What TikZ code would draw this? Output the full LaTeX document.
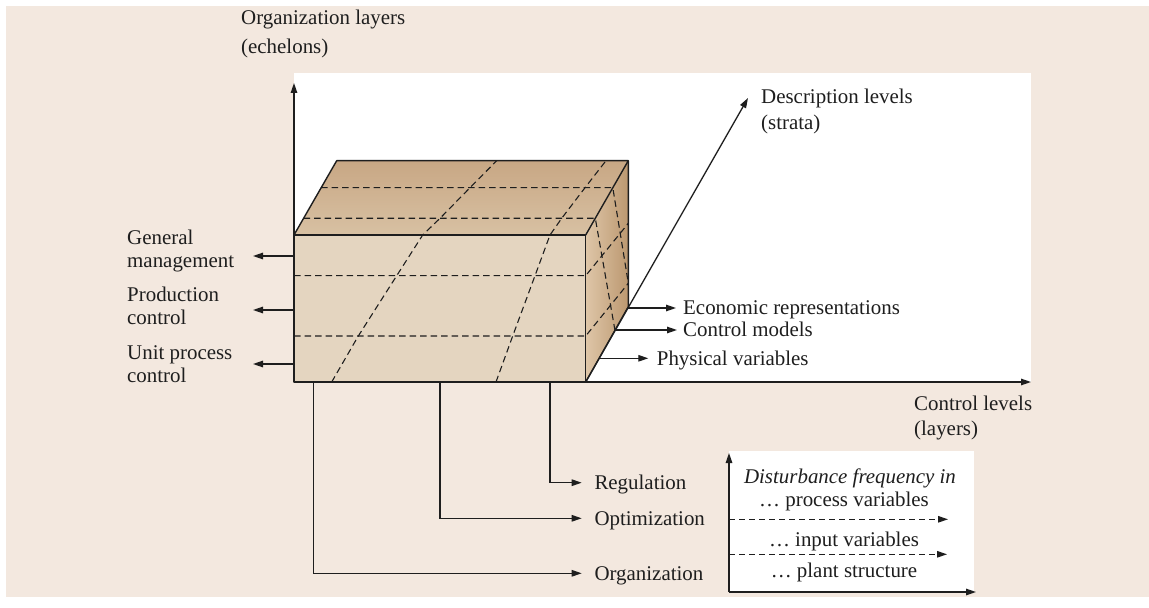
\documentclass[tikz,border=0pt]{standalone}
\usepackage{fontspec}
\setmainfont{Liberation Serif}
\usetikzlibrary{arrows.meta}
\definecolor{bgbeige}{RGB}{243,232,223}
\definecolor{frontface}{RGB}{228,213,192}
\definecolor{topback}{RGB}{200,167,132}
\definecolor{topfront}{RGB}{216,193,163}
\definecolor{sidefront}{RGB}{222,198,168}
\definecolor{sideback}{RGB}{188,152,112}
\definecolor{ink}{RGB}{30,30,30}
\newcommand{\twolines}[3]{\vtop{\baselineskip=#1bp\lineskiplimit=-100pt\hbox{#2}\hbox{#3}}}
\begin{document}
\begin{tikzpicture}[x=1bp,y=-1bp,
  lbl/.style={inner sep=0pt, anchor=base west, text=ink, font=\fontsize{21}{22}\selectfont},
  boxtxt/.style={inner sep=0pt, anchor=base, text=ink, font=\fontsize{21}{22}\selectfont},
  axis/.style={draw=ink, line width=1.3bp, -{Triangle[length=10bp,width=6.5bp]}},
  arr/.style={draw=ink, line width=1.3bp, -{Triangle[length=10bp,width=6.5bp]}},
  dasharr/.style={draw=ink, line width=1.2bp, dash pattern=on 6bp off 4bp, -{Triangle[length=10bp,width=6.5bp]}},
  edge/.style={draw=ink, line width=1.4bp, line join=round},
  grid/.style={draw=ink, line width=1.1bp, dash pattern=on 6.5bp off 4bp}]
\useasboundingbox (0,0) rectangle (1149,608);
% backgrounds
\fill[bgbeige] (6,6) rectangle (1149,597);
\fill[white] (294,73) rectangle (1031,382);
\fill[white] (729,451) rectangle (974,592);

% cube corners
\coordinate (fbl) at (294,382);
\coordinate (fbr) at (585.7,382);
\coordinate (ftl) at (294,235);
\coordinate (ftr) at (585.7,235);
\coordinate (btl) at (336.7,160.7);
\coordinate (btr) at (628.3,160.7);
\coordinate (bbr) at (628.3,306.7);

% faces
\fill[frontface] (fbl) -- (fbr) -- (ftr) -- (ftl) -- cycle;
\shade[top color=topback, bottom color=topfront] (ftl) -- (ftr) -- (btr) -- (btl) -- cycle;
\shade[left color=sidefront, right color=sideback] (fbr) -- (ftr) -- (btr) -- (bbr) -- cycle;

% strata boundaries on the top and side faces
\draw[grid] (321.2,187.7) -- (612.8,187.7) -- (628.3,283);
\draw[grid] (303.6,218.3) -- (595.3,218.3) -- (615,330.5);
% echelon boundaries on the front and side faces
\draw[grid] (294,275.7) -- (585.7,275.7) -- (628.3,223.3);
\draw[grid] (294,336) -- (585.7,336) -- (628.3,283.3);
% layer boundaries across front and top
\draw[grid] (331.7,382) -- (358.3,336) -- (396.7,275.7) -- (422.7,235) -- (440,218.3) -- (470,187.7) -- (496.7,160.7);
\draw[grid] (496,382) -- (512.7,336) -- (535,275.7) -- (550,235) -- (561.7,218.3) -- (585,187.7) -- (606,160.7);

% cube outline
\draw[edge] (fbl) -- (fbr) -- (ftr) -- (ftl) -- cycle;
\draw[edge] (ftl) -- (btl) -- (btr) -- (ftr);
\draw[edge] (btr) -- (bbr) -- (fbr);

% axes
\coordinate (orgtip) at (294,83);
\coordinate (ctrltip) at (1031,382);
\coordinate (desctip) at (748,98);
\draw[axis] (fbl) -- (orgtip);
\draw[axis] (fbl) -- (ctrltip);
\draw[axis] (fbr) -- (desctip);

\node[lbl] (orglab) at (241,25) {\twolines{29}{Organization layers}{(echelons)}};
\node[lbl] (desclab) at (761,103.3) {\twolines{26}{Description levels}{(strata)}};
\node[lbl] (ctrllab) at (914,410) {\twolines{25}{Control levels}{(layers)}};

% organization layers
\node[lbl] (gen) at (127,245) {\twolines{23}{General}{management}};
\node[lbl] (prod) at (127,302) {\twolines{23}{Production}{control}};
\node[lbl] (unit) at (127,359) {\twolines{23}{Unit process}{control}};
\coordinate (gens) at (294,256);
\coordinate (gent) at (253,256);
\coordinate (prods) at (294,310);
\coordinate (prodt) at (253,310);
\coordinate (units) at (294,364);
\coordinate (unitt) at (253,364);
\draw[arr] (gens) -- (gent);
\draw[arr] (prods) -- (prodt);
\draw[arr] (units) -- (unitt);

% description levels
\node[lbl] (econ) at (683,314.5) {Economic representations};
\node[lbl] (cmod) at (683,336.5) {Control models};
\node[lbl] (phys) at (656.7,365) {Physical variables};
\coordinate (econs) at (628.3,308);
\coordinate (econt) at (676,308);
\coordinate (cmods) at (615,330);
\coordinate (cmodt) at (677,330);
\coordinate (physs) at (600,358.3);
\coordinate (physt) at (648.3,358.3);
\draw[arr] (econs) -- (econt);
\draw[arr] (cmods) -- (cmodt);
\draw[arr] (physs) -- (physt);

% control levels
\node[lbl] (reg) at (594.3,489.3) {Regulation};
\node[lbl] (opt) at (594.3,525) {Optimization};
\node[lbl] (orgz) at (594.3,580.7) {Organization};
\coordinate (regs) at (550,382);
\coordinate (regt) at (581.7,482.7);
\coordinate (opts) at (440,382);
\coordinate (optt) at (581.7,518.3);
\coordinate (orgs) at (313.3,382);
\coordinate (orgt) at (581.7,573.3);
\draw[arr] (regs) |- (regt);
\draw[arr] (opts) |- (optt);
\draw[arr] (orgs) |- (orgt);

% disturbance frequency chart
\coordinate (dorig) at (729,592);
\coordinate (dup) at (729,453);
\coordinate (dright) at (976,592);
\coordinate (d1s) at (729,519.3);
\coordinate (d1t) at (948,519.3);
\coordinate (d2s) at (729,554.3);
\coordinate (d2t) at (947,554.3);
\draw[arr] (dorig) -- (dup);
\draw[arr] (dorig) -- (dright);
\draw[dasharr] (d1s) -- (d1t);
\draw[dasharr] (d2s) -- (d2t);
\node[boxtxt] (dist) at (850,483) {\itshape Disturbance frequency in};
\node[boxtxt] (dproc) at (844,506) {… process variables};
\node[boxtxt] (dinp) at (844,546) {… input variables};
\node[boxtxt] (dplant) at (844,577) {… plant structure};
\end{tikzpicture}
\end{document}
